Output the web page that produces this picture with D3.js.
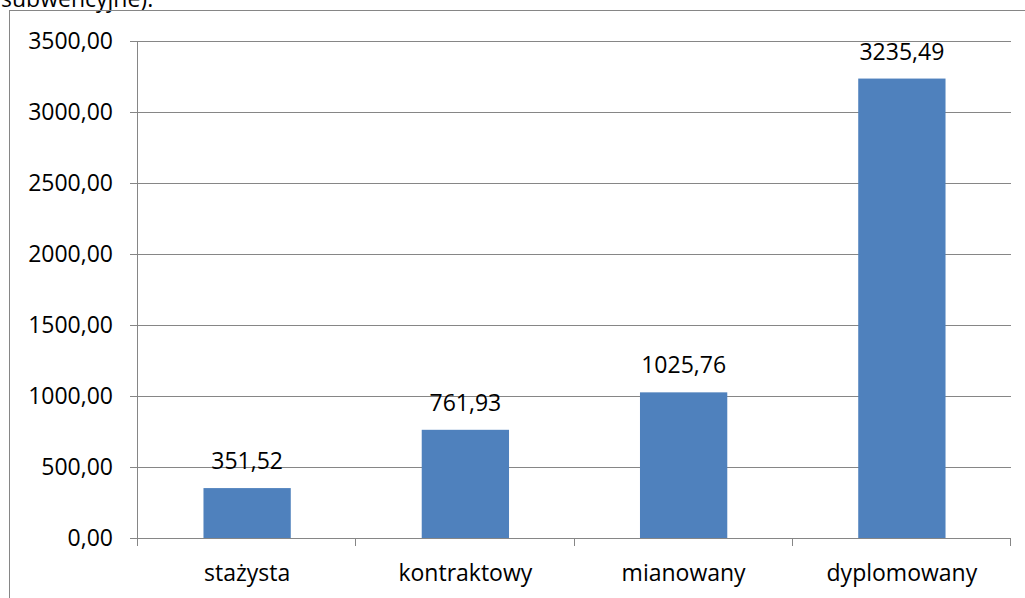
<!DOCTYPE html>
<html>
<head>
<meta charset="utf-8">
<script src="https://cdn.jsdelivr.net/npm/d3@7"></script>
<style>
  body { margin: 0; background: #fff; }
  svg { display: block; }
  text { font-family: "Open Sans", sans-serif; fill: #000; }
</style>
</head>
<body>
<script>
/* ------------------------------- Chart data ------------------------------- */
const categories = ["stażysta", "kontraktowy", "mianowany", "dyplomowany"];
const values = [351.52, 761.93, 1025.76, 3235.49];
const yTicks = [0, 500, 1000, 1500, 2000, 2500, 3000, 3500];
const captionTail = "subwencyjne).";

/* ------------------------------ Window layout ----------------------------- */
const vWidth = 1025;
const vHeight = 598;
const plot = { left: 138, right: 1011, top: 41, bottom: 538 };
const fontSize = '23px';
const gridColor = "#868686";
const barColor = "#4F81BD";

const locale = d3.formatLocale({ decimal: ",", thousands: "", grouping: [3], currency: ["", ""] });
const fmt = locale.format(".2f");

const svg = d3.select("body").append("svg").attr('width', vWidth).attr('height', vHeight);

// caption line above the chart, cut off by the top edge as in the source
svg.append("text")
    .attr('x', 1)
    .attr('y', 7)
    .style('font-size', fontSize)
    .text(captionTail);

// chart frame (runs off the right and bottom of the picture)
svg.append("rect")
    .attr('x', 9.5)
    .attr('y', 10.5)
    .attr('width', vWidth + 20)
    .attr('height', vHeight + 20)
    .attr('fill', 'none')
    .attr('stroke', gridColor)
    .attr('stroke-width', 1);

/* --------------------------------- Scales --------------------------------- */
const x = d3.scaleBand()
    .domain(categories)
    .range([plot.left, plot.right])
    .paddingInner(0.6)
    .paddingOuter(0.3);

const xEdge = d3.scaleBand().domain(categories).range([plot.left, plot.right]);

const y = d3.scaleLinear().domain([0, 3500]).range([plot.bottom, plot.top]);

/* ------------------------------ Grid and axes ----------------------------- */
// horizontal gridlines with outward tick stubs
svg.append("g").selectAll("line").data(yTicks).enter().append("line")
    .attr('x1', plot.left - 8)
    .attr('x2', plot.right)
    .attr('y1', d => Math.round(y(d)) + 0.5)
    .attr('y2', d => Math.round(y(d)) + 0.5)
    .attr('stroke', gridColor);

// y labels
svg.append("g").selectAll("text").data(yTicks).enter().append("text")
    .attr('x', 113)
    .attr('y', d => y(d))
    .attr('dy', '0.36em')
    .attr('text-anchor', 'end')
    .style('font-size', fontSize)
    .text(d => fmt(d));

// vertical axis line
svg.append("line")
    .attr('x1', plot.left - 0.5).attr('x2', plot.left - 0.5)
    .attr('y1', plot.top).attr('y2', plot.bottom + 8)
    .attr('stroke', gridColor);

// category boundary ticks below x axis
const edges = categories.map(c => xEdge(c) + xEdge.bandwidth()).concat([plot.left]);
svg.append("g").selectAll("line").data(edges).enter().append("line")
    .attr('x1', d => Math.round(d) - 0.5)
    .attr('x2', d => Math.round(d) - 0.5)
    .attr('y1', plot.bottom)
    .attr('y2', plot.bottom + 8)
    .attr('stroke', gridColor);

/* ---------------------------------- Bars ---------------------------------- */
const g = svg.append("g").selectAll("g").data(values).enter().append("g");

g.append("rect")
    .attr('x', (d, i) => x(categories[i]))
    .attr('y', d => y(d))
    .attr('width', x.bandwidth())
    .attr('height', d => y(0) - y(d))
    .attr('fill', barColor);

// value labels
g.append("text")
    .attr('x', (d, i) => x(categories[i]) + x.bandwidth() / 2)
    .attr('y', d => y(d) - 19)
    .attr('text-anchor', 'middle')
    .style('font-size', fontSize)
    .text(d => fmt(d));

// category labels
svg.append("g").selectAll("text").data(categories).enter().append("text")
    .attr('x', d => x(d) + x.bandwidth() / 2)
    .attr('y', 581)
    .attr('text-anchor', 'middle')
    .style('font-size', fontSize)
    .text(d => d);
</script>
</body>
</html>
